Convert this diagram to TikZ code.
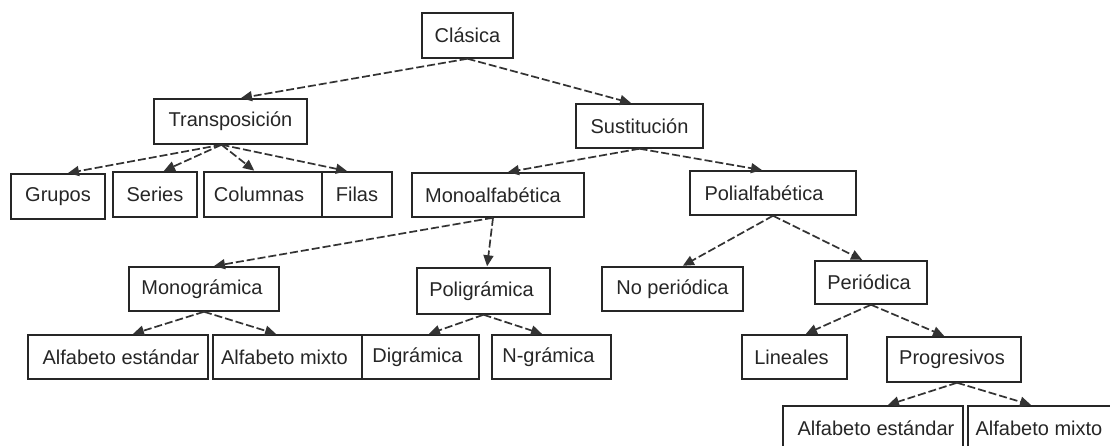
\documentclass[tikz,border=0pt]{standalone}
\usepackage{fontspec}
\setmainfont{Liberation Sans}
\usetikzlibrary{arrows.meta}
\begin{document}
\begin{tikzpicture}[x=1pt,y=-1pt,
  box/.style={draw=black!85, line width=1.5pt, rectangle, inner sep=0pt,
    minimum height=44pt, font=\fontsize{20}{24}\selectfont, text=black!85},
  conn/.style={draw=black!80, line width=1.7pt, dash pattern=on 8pt off 3pt,
    -{Triangle[length=11pt,width=10pt]}, shorten >=1pt}]
\useasboundingbox (0,0) rectangle (1110,445);
\clip (0,0) rectangle (1110,445);
\fill[white] (0,0) rectangle (1110,445);
% nodes
\node[box, minimum width=91pt, minimum height=45pt]  (clasica)  at (467.5,35.5) {Clásica};
\node[box, minimum width=153pt, minimum height=45pt] (transp)   at (230.5,121.5) {Transposición};
\node[box, minimum width=127pt]                      (sust)     at (639.5,126) {Sustitución};
\node[box, minimum width=94pt, minimum height=45pt]  (grupos)   at (58,196.5) {Grupos};
\node[box, minimum width=84pt, minimum height=45pt]  (series)   at (155,194.5) {Series};
\node[box, minimum width=118pt, minimum height=45pt] (columnas) at (263,194.5) {Columnas\hspace*{8pt}};
\node[box, minimum width=70pt, minimum height=45pt]  (filas)    at (357,194.5) {Filas};
\node[box, minimum width=172pt]                      (monoalfa) at (498,195) {Monoalfabética\hspace*{10pt}};
\node[box, minimum width=166pt]                      (polialfa) at (773,193) {Polialfabética\hspace*{18pt}};
\node[box, minimum width=150pt]                      (monogr)   at (204,289) {Monográmica\hspace*{4pt}};
\node[box, minimum width=133pt, minimum height=46pt] (poligr)   at (483.5,291) {Poligrámica\hspace*{4pt}};
\node[box, minimum width=141pt]                      (noper)    at (672.5,289) {No periódica};
\node[box, minimum width=112pt, minimum height=43pt] (period)   at (871,282.5) {Periódica\hspace*{4pt}};
\node[box, minimum width=180pt]                      (alfest1)  at (118,357) {\hspace*{6pt}Alfabeto estándar};
\node[box, minimum width=149pt]                      (alfmix1)  at (287.5,357) {Alfabeto mixto\hspace*{6pt}};
\node[box, minimum width=117pt]                      (digr)     at (420.5,357) {Digrámica\hspace*{6pt}};
\node[box, minimum width=119pt]                      (ngr)      at (551.5,357) {N-grámica\hspace*{6pt}};
\node[box, minimum width=105pt]                      (lineales) at (794.5,357) {Lineales\hspace*{6pt}};
\node[box, minimum width=134pt, minimum height=45pt] (progr)    at (954,359.5) {Progresivos\hspace*{4pt}};
\node[box, minimum width=180pt, minimum height=45pt] (alfest2)  at (873,428.5) {\hspace*{6pt}Alfabeto estándar};
\node[box, minimum width=149pt, minimum height=45pt] (alfmix2)  at (1042.5,428.5) {Alfabeto mixto\hspace*{7pt}};
% connectors
\draw[conn] (clasica.south) -- ([xshift=9.5pt]transp.north);
\draw[conn] (clasica.south) -- ([xshift=-7.5pt]sust.north);
\draw[conn] ([xshift=-9pt]transp.south) -- ([xshift=9pt]grupos.north);
\draw[conn] ([xshift=-9pt]transp.south) -- ([xshift=8pt]series.north);
\draw[conn] ([xshift=-9pt]transp.south) -- ([xshift=-8pt]columnas.north);
\draw[conn] ([xshift=-9pt]transp.south) -- ([xshift=-9pt]filas.north);
\draw[conn] (sust.south) -- ([xshift=9pt]monoalfa.north);
\draw[conn] (sust.south) -- ([xshift=-10pt]polialfa.north);
\draw[conn] ([xshift=-5pt]monoalfa.south) -- ([xshift=9pt]monogr.north);
\draw[conn] ([xshift=-5pt]monoalfa.south) -- ([xshift=3.5pt]poligr.north);
\draw[conn] (polialfa.south) -- ([xshift=9.5pt]noper.north);
\draw[conn] (polialfa.south) -- ([xshift=-8pt]period.north);
\draw[conn] (monogr.south) -- ([xshift=14pt]alfest1.north);
\draw[conn] (monogr.south) -- ([xshift=-10.5pt]alfmix1.north);
\draw[conn] (poligr.south) -- ([xshift=7.5pt]digr.north);
\draw[conn] (poligr.south) -- ([xshift=-8.5pt]ngr.north);
\draw[conn] (period.south) -- ([xshift=10.5pt]lineales.north);
\draw[conn] (period.south) -- ([xshift=-9pt]progr.north);
\draw[conn] ([xshift=3pt]progr.south) -- ([xshift=14pt]alfest2.north);
\draw[conn] ([xshift=3pt]progr.south) -- ([xshift=-10.5pt]alfmix2.north);
\end{tikzpicture}
\end{document}
